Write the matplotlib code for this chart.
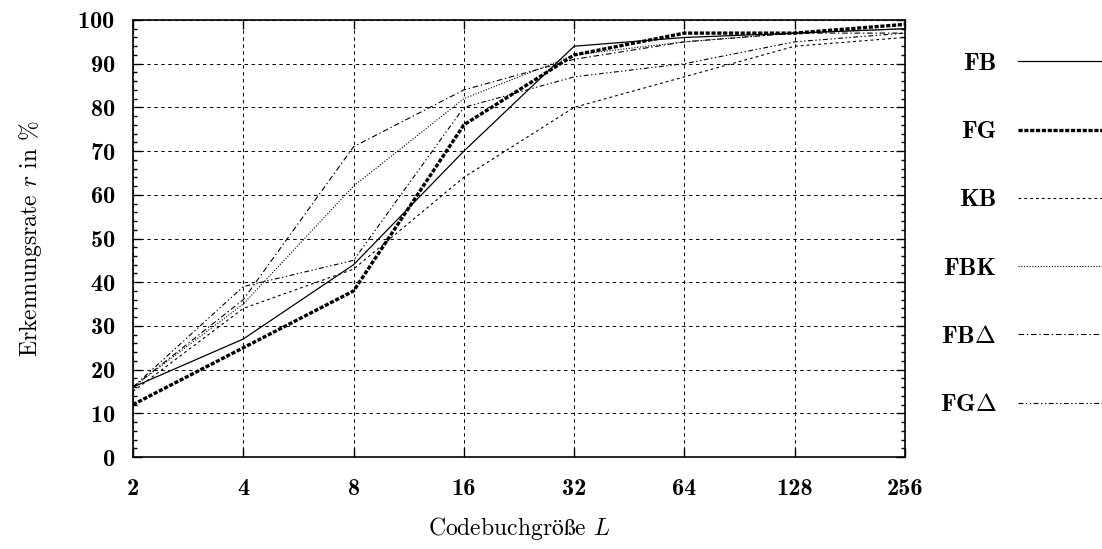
import matplotlib
matplotlib.use("Agg")
import matplotlib.pyplot as plt
from matplotlib.ticker import FixedLocator, FixedFormatter, MultipleLocator, NullLocator

# codebook sizes and recognition rates (in %)
codebook_sizes = [2, 4, 8, 16, 32, 64, 128, 256]
rate_fb = [16, 27, 44, 70, 94, 96, 97, 98]
rate_fg = [12, 25, 38, 76, 92, 97, 97, 99]
rate_kb = [15, 34, 43, 64, 80, 87, 94, 96]
rate_fbk = [16, 35, 62, 82, 92, 95, 97, 98]
rate_fbd = [16, 36, 71, 84, 91, 95, 97, 97]
rate_fgd = [16, 39, 45, 80, 87, 90, 95, 97]

series_labels = ["FB", "FG", "KB", "FBK", r"FB$\mathbf{\Delta}$", r"FG$\mathbf{\Delta}$"]
y_ticks = [0, 10, 20, 30, 40, 50, 60, 70, 80, 90, 100]

plt.rcParams.update({
    "font.family": ["cmr10", "DejaVu Serif"],
    "mathtext.fontset": "cm",
    "axes.formatter.use_mathtext": True,
    "lines.scale_dashes": False,
})

fig = plt.figure(figsize=(11.02, 5.49), dpi=100)
ax = fig.add_axes([133 / 1102, 92 / 549, 772 / 1102, 437 / 549])

styles = [
    dict(lw=0.9, ls="-"),
    dict(lw=2.4, ls=(0, (3.0, 1.2))),
    dict(lw=0.8, ls=(0, (2.0, 2.2))),
    dict(lw=0.8, ls=(0, (0.8, 1.2))),
    dict(lw=0.8, ls=(0, (4.0, 2.0, 1.0, 2.0))),
    dict(lw=0.8, ls=(0, (3.5, 1.8, 1.0, 1.8, 1.0, 1.8))),
]
all_rates = [rate_fb, rate_fg, rate_kb, rate_fbk, rate_fbd, rate_fgd]

for rates, label, st in zip(all_rates, series_labels, styles):
    ax.plot(codebook_sizes, rates, color="black", label=label, **st)

ax.set_xscale("log", base=2)
ax.set_xlim(2, 256)
ax.set_ylim(0, 100)
ax.xaxis.set_major_locator(FixedLocator(codebook_sizes))
ax.xaxis.set_major_formatter(FixedFormatter([str(v) for v in codebook_sizes]))
ax.xaxis.set_minor_locator(NullLocator())
ax.yaxis.set_major_locator(FixedLocator(y_ticks))
ax.yaxis.set_minor_locator(MultipleLocator(2))

ax.grid(True, which="major", color="black", lw=0.7, ls=(0, (2.5, 2.5)))
ax.tick_params(which="both", direction="in", top=True, right=True, width=1.0)
ax.tick_params(which="major", length=6.5)
ax.tick_params(which="minor", length=3)
ax.tick_params(axis="y", pad=13)
ax.tick_params(axis="x", pad=15)
for lab in ax.get_xticklabels() + ax.get_yticklabels():
    lab.set_family(["cmb10", "DejaVu Serif"])
    lab.set_fontsize(17.5)
for sp in ax.spines.values():
    sp.set_linewidth(1.2)

ax.set_xlabel(r"Codebuchgr$\mathrm{öß}$e $L$", fontsize=17, labelpad=11)
ax.set_ylabel(r"Erkennungsrate $r$ in %", fontsize=17, labelpad=24)

leg = fig.legend(loc="upper left", bbox_to_anchor=(927 / 1102, 1 - 40 / 549),
                 frameon=False, markerfirst=False, handlelength=3.6,
                 handletextpad=0.85, labelspacing=1.83, borderpad=0,
                 prop={"family": ["cmb10", "DejaVu Serif"], "size": 18})

fig.savefig("out.png", dpi=100)
